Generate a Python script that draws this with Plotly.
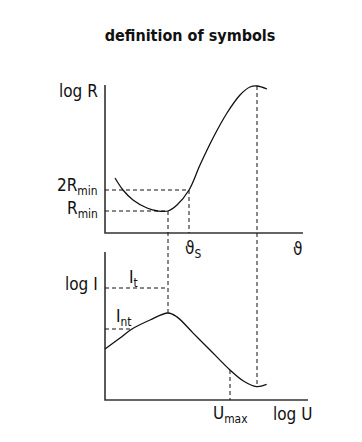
import plotly.graph_objects as go

# top panel: log R against temperature (schematic units)
theta = [5, 9, 14, 21, 26.5, 31.5, 36, 42, 47.5, 54, 61, 67.5, 72.5, 76, 81]
log_r = [27.5, 21.5, 16.5, 12.5, 11, 11, 14, 21.5, 34, 47.5, 60, 69, 73, 73.5, 72]

# bottom panel: log I against log U
log_u = [0, 7.5, 13.5, 22.5, 31.5, 35.8, 44.2, 52.5, 62.5, 69.2, 75.8, 80.8]
log_i = [25.5, 31, 35.5, 40, 43.5, 41.7, 33.3, 25, 15, 9.5, 6.7, 7.8]

theta_min, theta_s, theta_peak = 31.5, 42, 76
r_min, r_2min, r_peak = 11, 21.5, 73.5
i_t, i_nt, i_peak, i_low = 56, 35.5, 43.5, 6.7
u_nt, u_max, i_umax = 13.5, 62.5, 15

top_axis_len, bot_axis_len = 99, 101.5
axis_height = 74
top_base = 83.5  # where the top panel sits above the bottom one

FONT = "Liberation Sans Narrow, DejaVu Sans Condensed, Arial Narrow, sans-serif"
INK = "#111"


def top(v):
    return v + top_base


fig = go.Figure()


def line(x, y, dash=None, width=1.3, color=INK, shape="linear"):
    fig.add_trace(go.Scatter(
        x=x, y=y, mode="lines", hoverinfo="skip",
        line=dict(color=color, width=width, dash=dash, shape=shape),
    ))


# axes
line([0, 0, top_axis_len], [top(axis_height), top(0), top(0)], width=1.6, color="#333")
line([0, 0, bot_axis_len], [axis_height, 0, 0], width=1.6, color="#333")

# dashed guides
d = "4px,3px"
line([0, theta_min], [top(r_min), top(r_min)], dash=d, width=1)
line([0, theta_s], [top(r_2min), top(r_2min)], dash=d, width=1)
line([theta_min, theta_min], [top(r_min), i_peak], dash=d, width=1)
line([theta_s, theta_s], [top(r_2min), top(0)], dash=d, width=1)
line([theta_peak, theta_peak], [top(r_peak), i_low], dash=d, width=1)
line([0, theta_min], [i_t, i_t], dash=d, width=1)
line([0, u_nt], [i_nt, i_nt], dash=d, width=1)
line([u_max, u_max], [i_umax, 0], dash=d, width=1)

# curves
line(theta, [top(v) for v in log_r], width=1.3, shape="spline")
line(log_u, log_i, width=1.3, shape="spline")

labels = [
    ("log R", -2.5, top(71), "right"),
    ("2R<sub>min</sub>", -2.5, top(r_2min + 2), "right"),
    ("R<sub>min</sub>", -2.5, top(r_min + 1), "right"),
    ("ϑ<sub>S</sub>", 44, top(-8), "center"),
    ("ϑ", 96, top(-8), "center"),
    ("log I", -2.5, 58, "right"),
    ("I<sub>t</sub>", 14, 61, "center"),
    ("I<sub>nt</sub>", 9.5, 41.5, "center"),
    ("U<sub>max</sub>", 62.5, -7, "center"),
    ("log U", 93.5, -7, "center"),
]
for text, x, y, anchor in labels:
    fig.add_annotation(
        x=x, y=y, text=text, showarrow=False, xanchor=anchor, yanchor="middle",
        font=dict(family=FONT, size=17, color=INK),
    )

# page body adds an 8px offset, so the figure is 8px smaller and shifted back
fig.update_layout(
    width=354, height=434,
    margin=dict(l=87, r=42, t=67, b=22),
    paper_bgcolor="white", plot_bgcolor="white",
    showlegend=False,
    title=dict(
        text="<b>definition of symbols</b>", x=182 / 354, xanchor="center",
        y=1 - 27 / 434, yanchor="middle",
        font=dict(family=FONT, size=16, color=INK),
    ),
    xaxis=dict(range=[-5, 107.5], visible=False, fixedrange=True),
    yaxis=dict(range=[-10, 162.5], visible=False, fixedrange=True),
)

fig.write_html("out.html")
